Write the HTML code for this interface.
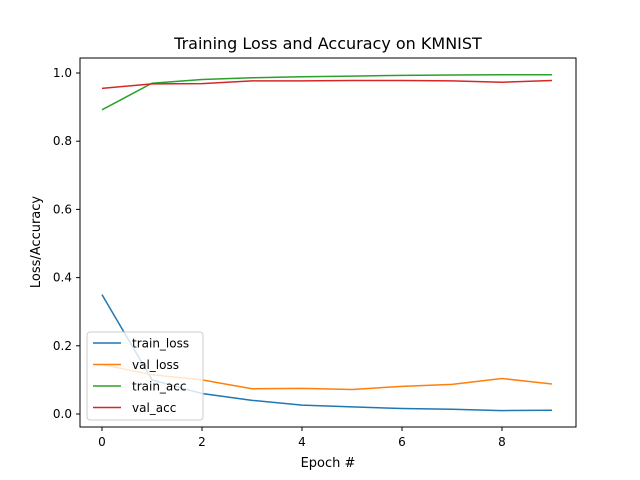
<!DOCTYPE html>
<html><head><meta charset="utf-8"><style>
body{margin:0;background:#fff;}
svg{display:block;font-family:"DejaVu Sans","Liberation Sans",sans-serif;}
</style></head><body>
<svg id="chart" width="640" height="480" viewBox="0 0 640 480">
<rect x="0" y="0" width="640" height="480" fill="#fff"/>
<text x="328" y="49" font-size="16" text-anchor="middle">Training Loss and Accuracy on KMNIST</text>
<g id="plot"></g>
<rect x="80" y="58" width="496" height="369" fill="none" stroke="#000" stroke-width="1"/>
<text x="328" y="467" font-size="13" text-anchor="middle">Epoch #</text>
<text x="40" y="242" font-size="13" text-anchor="middle" transform="rotate(-90 40 242)">Loss/Accuracy</text>
<g id="legend"></g>
</svg>
<script>
const epochs=[0,1,2,3,4,5,6,7,8,9];
const trainLoss=[0.35,0.10,0.06,0.04,0.026,0.021,0.016,0.014,0.010,0.011];
const valLoss=[0.145,0.115,0.10,0.074,0.075,0.072,0.081,0.087,0.104,0.088];
const trainAcc=[0.892,0.970,0.981,0.986,0.989,0.991,0.993,0.994,0.995,0.995];
const valAcc=[0.955,0.968,0.969,0.977,0.977,0.978,0.978,0.977,0.973,0.978];
const xTicks=[0,2,4,6,8];
const yTicks=[0.0,0.2,0.4,0.6,0.8,1.0];
const seriesNames=["train_loss","val_loss","train_acc","val_acc"];
const colors=["#1f77b4","#ff7f0e","#2ca02c","#d62728"];
const NS="http://www.w3.org/2000/svg";
const X=v=>102+v*50;
const Y=v=>414-v*341;
const plot=document.getElementById('plot');
function mk(t,a,p){const e=document.createElementNS(NS,t);for(const k in a)e.setAttribute(k,a[k]);(p||plot).appendChild(e);return e;}
xTicks.forEach(t=>{
 const l=mk('line',{x1:X(t),x2:X(t),y1:427,y2:431,stroke:'#000'});
 
 
 const s=mk('text',{x:X(t),y:446,'font-size':12,'text-anchor':'middle'});s.textContent=t;
 
 
});
yTicks.forEach(t=>{
 const l=mk('line',{x1:76,x2:80,y1:Y(t),y2:Y(t),stroke:'#000'});
 
 
 const s=mk('text',{x:72,y:Y(t)+4,'font-size':12,'text-anchor':'end'});s.textContent=t.toFixed(1);
 
 
});
[trainLoss,valLoss,trainAcc,valAcc].forEach((d,i)=>{
 const p=mk('polyline',{points:d.map((v,j)=>X(epochs[j])+','+Y(v)).join(' '),fill:'none',stroke:colors[i],'stroke-width':1.5});
 
 
});
const lg=document.getElementById('legend');
const box=mk('rect',{x:87,y:332,width:116,height:88,rx:3,fill:'#fff','fill-opacity':0.8,stroke:'#ccc'},lg);


seriesNames.forEach((n,i)=>{
 const y=343+i*21.5;
 const l=mk('line',{x1:93,x2:121,y1:y,y2:y,stroke:colors[i],'stroke-width':1.5},lg);
 
 
 const t=mk('text',{x:132,y:y+4.5,'font-size':12},lg);t.textContent=n;
 
 
});
</script>
</body></html>
